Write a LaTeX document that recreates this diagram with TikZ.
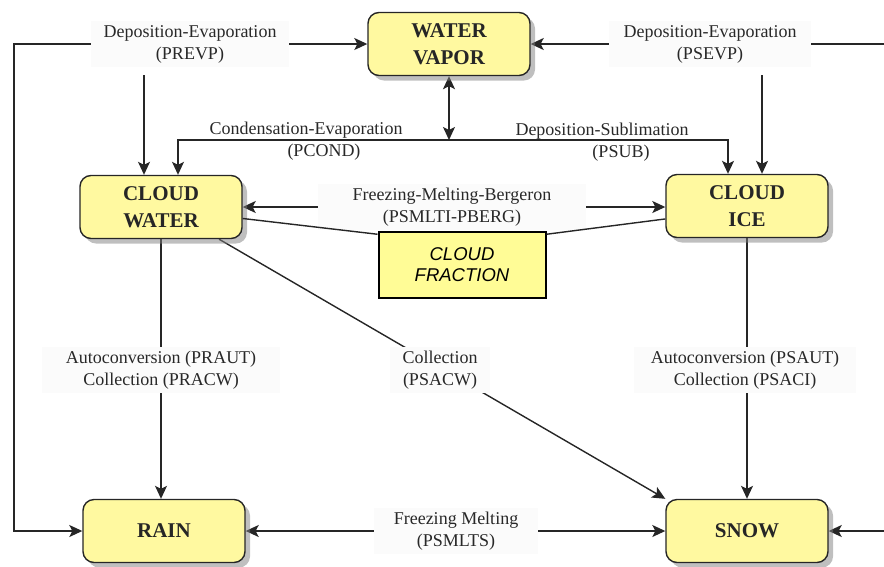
\documentclass[tikz,border=0pt]{standalone}
\usepackage{fontspec}
\setmainfont{Liberation Serif}
\newfontfamily\fracfont{Liberation Sans}
\usetikzlibrary{arrows.meta,shadows,backgrounds}
\definecolor{boxyellow}{RGB}{255,249,160}
\definecolor{fracyellow}{RGB}{255,252,150}
\definecolor{labelbg}{RGB}{251,251,251}
\definecolor{lbltext}{RGB}{40,40,40}
\begin{document}
\begin{tikzpicture}[x=1pt,y=-1pt,
  proc/.style={draw=black!85, line width=1.4pt, fill=boxyellow, rounded corners=11pt,
    minimum width=162pt, minimum height=63pt, align=center, inner sep=0pt,
    font=\fontsize{21}{27}\selectfont\bfseries, text=black!85,
    drop shadow={shadow xshift=5pt, shadow yshift=-5pt, fill=black!50}},
  fracbox/.style={draw=black, line width=2pt, fill=fracyellow, minimum width=167pt,
    minimum height=66pt, align=center, inner sep=0pt,
    font=\fracfont\itshape\fontsize{18.5}{21}\selectfont},
  lbl/.style={fill=labelbg, text=lbltext, align=center, inner ysep=4pt,
    font=\fontsize{18}{22}\selectfont},
  plainlbl/.style={text=lbltext, align=center, inner sep=0pt, font=\fontsize{18}{22}\selectfont},
  conn/.style={draw=black!85, line width=1.4pt},
  arr/.style={conn, -{Stealth[length=13pt,width=12pt,inset=3pt]}},
  darr/.style={conn, {Stealth[length=13pt,width=12pt,inset=3pt]}-{Stealth[length=13pt,width=12pt,inset=3pt]}}
]
\useasboundingbox (0,0) rectangle (884,566);

% process boxes
\node[proc] (vapor) at (449,44) {WATER\\VAPOR};
\node[proc] (cw) at (161,207) {CLOUD\\WATER};
\node[proc] (ci) at (747,206) {CLOUD\\ICE};
\node[proc] (rain) at (164,531) {RAIN};
\node[proc] (snow) at (747,531) {SNOW};
\node[fracbox] (frac) at (462,265) {CLOUD\\FRACTION};

% labels
\node[lbl, inner xsep=13pt] (prevp) at (190,44) {Deposition-Evaporation\\(PREVP)};
\node[lbl, inner xsep=15pt] (psevp) at (710,44) {Deposition-Evaporation\\(PSEVP)};
\node[lbl, inner xsep=35pt] (berg) at (452,207) {Freezing-Melting-Bergeron\\(PSMLTI-PBERG)};
\node[lbl, inner xsep=24pt] (praut) at (161,370) {Autoconversion (PRAUT)\\Collection (PRACW)};
\node[lbl, inner xsep=13pt] (psacw) at (440,370) {Collection\\(PSACW)};
\node[lbl, inner xsep=17pt] (psaut) at (745,370) {Autoconversion (PSAUT)\\Collection (PSACI)};
\node[lbl, inner xsep=20pt] (psmlts) at (456,531) {Freezing Melting\\(PSMLTS)};
\node[plainlbl, anchor=base] (pconda) at (306,134) {Condensation-Evaporation};
\node[plainlbl, anchor=base] (pcondb) at (324,156) {(PCOND)};
\node[plainlbl, anchor=base] (psuba) at (602,135) {Deposition-Sublimation};
\node[plainlbl, anchor=base] (psubb) at (621,157) {(PSUB)};

% helper coordinates
\coordinate (lc1) at (14,44);
\coordinate (lc2) at (14,531);
\coordinate (rc1) at (895,44);
\coordinate (rc2) at (895,531);
\coordinate (pv) at (144,75);
\coordinate (sv) at (762,75);
\coordinate (jv) at (449,140);
\coordinate (jl) at (178,140);
\coordinate (jr) at (728,140);

\begin{scope}[on background layer]
\draw[arr] (prevp.center) -- (vapor.west |- prevp.center);
\draw[arr] (prevp.center) -- (lc1) -- (lc2) -- (rain.west);
\draw[arr] (pv) -- (cw.north -| pv);
\draw[arr] (psevp.center) -- (vapor.east |- psevp.center);
\draw[arr] (psevp.center) -- (rc1) -- (rc2) -- (snow.east);
\draw[arr] (sv) -- (ci.north -| sv);
\draw[darr] (vapor.south) -- (jv);
\draw[arr] (jv) -- (jl) -- (cw.north -| jl);
\draw[arr] (jv) -- (jr) -- (ci.north -| jr);
\draw[arr] (berg.center) -- (cw.east);
\draw[arr] (berg.center) -- (ci.west |- berg.center);
\draw[arr] (cw.south) -- (rain.north -| cw.south);
\draw[arr] (cw.-29) -- (snow.north west);
\draw[arr] (ci.south) -- (snow.north);
\draw[arr] (psmlts.center) -- (rain.east);
\draw[arr] (psmlts.center) -- (snow.west);
\end{scope}

\draw[conn] (cw.-8) -- (frac.160);
\draw[conn] (ci.-171) -- (frac.20);
\end{tikzpicture}
\end{document}
